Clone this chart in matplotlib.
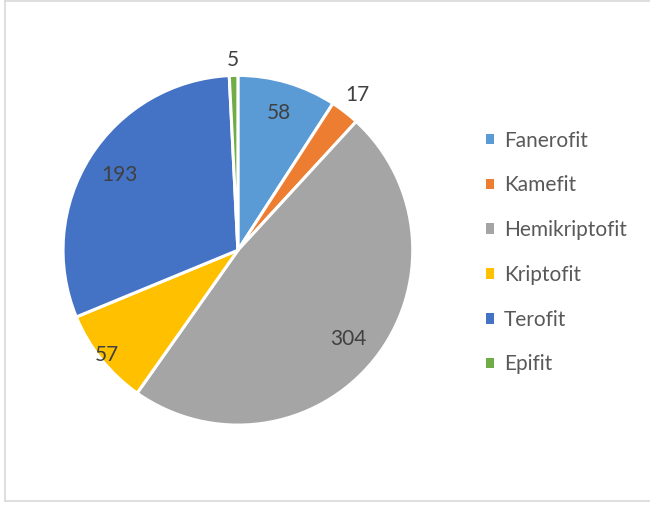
import matplotlib.pyplot as plt
from matplotlib.patches import Patch
from matplotlib.lines import Line2D
import numpy as np

plt.rcParams['font.family'] = ['Lato', 'DejaVu Sans']

categories = ['Fanerofit', 'Kamefit', 'Hemikriptofit', 'Kriptofit', 'Terofit', 'Epifit']
values = [58, 17, 304, 57, 193, 5]
colors = ['#5B9BD5', '#ED7D31', '#A5A5A5', '#FFC000', '#4472C4', '#70AD47']
# radial position of each data label (fraction of pie radius)
label_radius = [0.82, 1.12, 0.81, 0.96, 0.80, 1.09]

fig = plt.figure(figsize=(6.5, 5.05), dpi=100)
ax = fig.add_axes([0.097, 0.158, 0.538, 0.693])

wedges, _ = ax.pie(values, colors=colors, startangle=90, counterclock=False,
                   wedgeprops={'edgecolor': 'white', 'linewidth': 2.2})
ax.set_xlim(-1, 1)
ax.set_ylim(-1, 1)
ax.set_aspect('equal')

# data labels along each wedge's bisector
total = sum(values)
cum = np.cumsum([0] + values)
for i, v in enumerate(values):
    mid = (cum[i] + v / 2) / total * 2 * np.pi
    r = label_radius[i]
    ax.text(r * np.sin(mid), r * np.cos(mid), str(v), ha='center', va='center',
            fontsize=15, color='#404040')

handles = [Patch(facecolor=c, edgecolor='none') for c in colors]
fig.legend(handles, categories, loc='center left', bbox_to_anchor=(0.719, 0.5),
           frameon=False, fontsize=15, labelcolor='#595959',
           handlelength=0.4, handleheight=0.4, handletextpad=0.45,
           labelspacing=1.19)

# light chart-area border
for xs, ys in [([0.007, 0.007], [0.008, 0.999]), ([0.007, 1.0], [0.999, 0.999]),
               ([0.007, 1.0], [0.008, 0.008])]:
    fig.add_artist(Line2D(xs, ys, color='#D9D9D9', linewidth=1.2,
                          transform=fig.transFigure))

fig.savefig('out.png', dpi=100)
